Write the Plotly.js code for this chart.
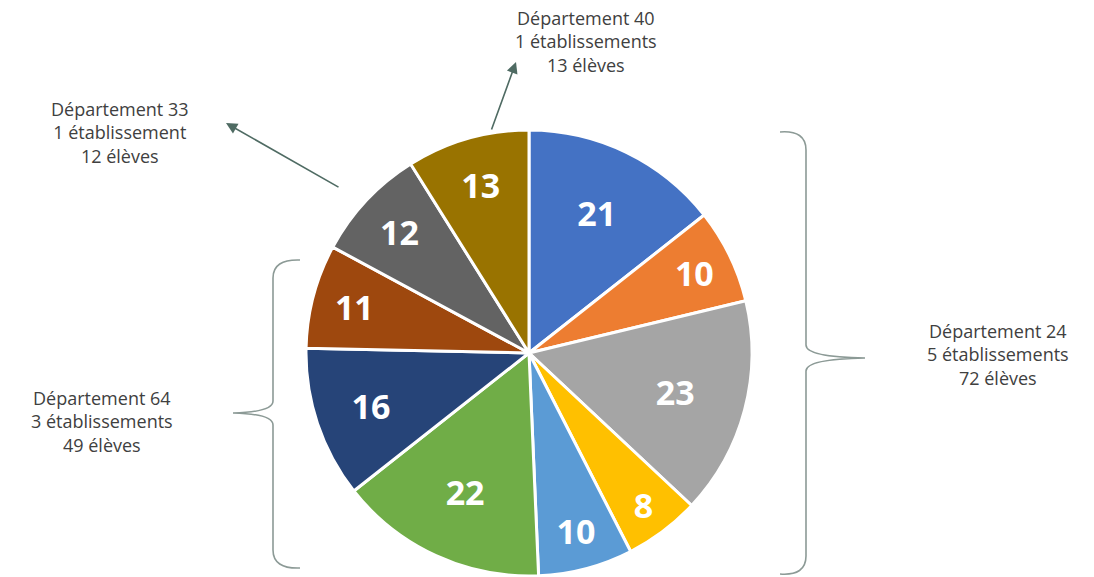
<!DOCTYPE html>
<html>
<head>
<meta charset="utf-8">
<script src="https://cdn.plot.ly/plotly-3.0.1.min.js"></script>
<style>html,body{margin:0;padding:0;background:#fff;}#chart{width:1094px;height:577px;}</style>
</head>
<body>
<div id="chart"></div>
<script>
// Data (clockwise from 12 o'clock)
const establishments = ["Établissement A (24)", "Établissement B (24)", "Établissement C (24)", "Établissement D (24)", "Établissement E (24)",
  "Établissement F (64)", "Établissement G (64)", "Établissement H (64)", "Établissement I (33)", "Établissement J (40)"];
const students = [21, 10, 23, 8, 10, 22, 16, 11, 12, 13];
const sliceColors = ["#4472C4", "#ED7D31", "#A5A5A5", "#FFC000", "#5B9BD5", "#70AD47", "#264478", "#9E480E", "#636363", "#997300"];

const deptLabels = [
  "Département 40<br>1 établissements<br>13 élèves",
  "Département 33<br>1 établissement<br>12 élèves",
  "Département 24<br>5 établissements<br>72 élèves",
  "Département 64<br>3 établissements<br>49 élèves"
];

const W = 1094, H = 577;
const cx = 529, cy = 353, R = 223;

const pie = {
  type: "pie",
  labels: establishments,
  values: students,
  sort: false,
  direction: "clockwise",
  rotation: 0,
  marker: { colors: sliceColors, line: { color: "#ffffff", width: 3 } },
  textinfo: "value",
  textposition: "inside",
  insidetextorientation: "horizontal",
  textfont: { family: "Open Sans, sans-serif", size: 34, color: "#ffffff", weight: "bold" },
  hoverinfo: "none",
  domain: { x: [(cx - R) / W, (cx + R) / W], y: [1 - (cy + R) / H, 1 - (cy - R) / H] }
};

const textFont = { family: "Open Sans, sans-serif", size: 18, color: "#404040" };
const lineCol = "#8c9a96";
const arrowCol = "#4f6b63";

const annotations = [
  { x: 586, y: 41, text: deptLabels[0] },
  { x: 120, y: 132, text: deptLabels[1] },
  { x: 998, y: 354, text: deptLabels[2] },
  { x: 102, y: 421, text: deptLabels[3] }
].map(a => Object.assign(a, { xref: "x", yref: "y", showarrow: false, font: textFont, align: "center" }));

annotations.push({ x: 516, y: 62, ax: 491, ay: 131, xref: "x", yref: "y", axref: "x", ayref: "y",
  text: "", showarrow: true, arrowhead: 2, arrowsize: 1.4, arrowwidth: 1.6, arrowcolor: arrowCol });
annotations.push({ x: 226, y: 123, ax: 340, ay: 188, xref: "x", yref: "y", axref: "x", ayref: "y",
  text: "", showarrow: true, arrowhead: 2, arrowsize: 1.4, arrowwidth: 1.6, arrowcolor: arrowCol });

const shapes = [
  { type: "path", xref: "x", yref: "y", line: { color: lineCol, width: 1.6 },
    path: "M 780 132 Q 806 130 806 150 L 806 345 Q 806 357 865 358 Q 806 359 806 371 L 806 556 Q 806 576 780 574" },
  { type: "path", xref: "x", yref: "y", line: { color: lineCol, width: 1.6 },
    path: "M 300 260 Q 273 259 273 278 L 273 401 Q 273 412 233 413 Q 273 414 273 425 L 273 550 Q 273 569 300 568" }
];

const layout = {
  width: W, height: H,
  margin: { l: 0, r: 0, t: 0, b: 0, pad: 0 },
  paper_bgcolor: "#ffffff", plot_bgcolor: "rgba(0,0,0,0)",
  showlegend: false,
  xaxis: { range: [0, W], visible: false, fixedrange: true },
  yaxis: { range: [H, 0], visible: false, fixedrange: true },
  annotations: annotations,
  shapes: shapes
};

Plotly.newPlot("chart", [pie], layout, { displayModeBar: false, staticPlot: true });
</script>
</body>
</html>
